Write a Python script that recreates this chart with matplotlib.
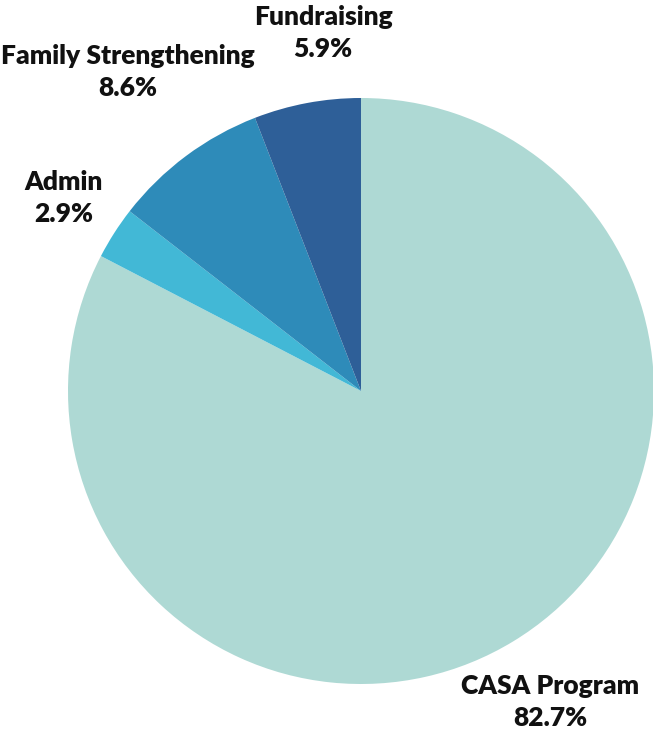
import matplotlib
matplotlib.use("Agg")
import matplotlib.pyplot as plt

categories = ["CASA Program", "Admin", "Family Strengthening", "Fundraising"]
values = [82.7, 2.9, 8.6, 5.9]
colors = ["#AED9D4", "#42B8D6", "#2E8BB9", "#2E5F98"]

W, H = 653, 735
fig = plt.figure(figsize=(W / 100, H / 100), dpi=100)
cx, cy, r = 361, 391, 293
ax = fig.add_axes([(cx - r) / W, (H - cy - r) / H, 2 * r / W, 2 * r / H])
ax.pie(values, colors=colors, startangle=90, counterclock=False, radius=1,
       wedgeprops=dict(linewidth=0))
ax.set_xlim(-1, 1)
ax.set_ylim(-1, 1)
ax.set_aspect("equal")
ax.axis("off")

# label positions in pixel coords (x center, y center of block)
label_pos = {
    "CASA Program": (550, 702),
    "Admin": (64, 198),
    "Family Strengthening": (128, 72),
    "Fundraising": (323, 33),
}
for cat, v in zip(categories, values):
    x, y = label_pos[cat]
    fig.text(x / W, 1 - y / H, f"{cat}\n{v}%", ha="center", va="center",
             fontsize=19, fontweight="heavy", family=["Lato", "DejaVu Sans"],
             linespacing=1.42, color="#111111")

fig.savefig("out.png", dpi=100, facecolor="white")
